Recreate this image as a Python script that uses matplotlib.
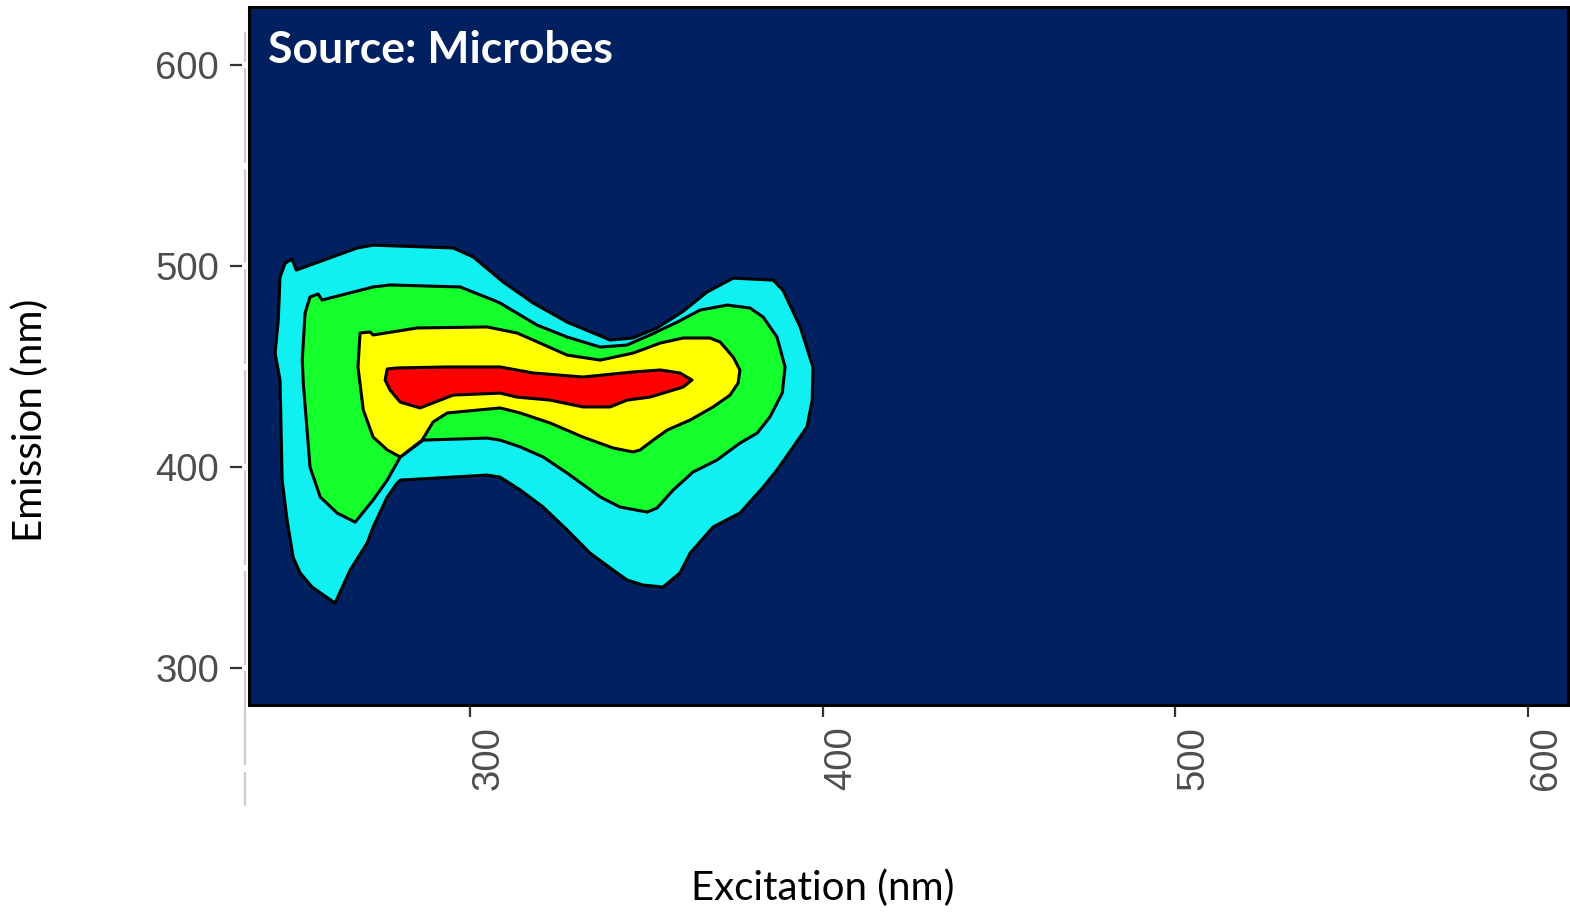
import matplotlib
matplotlib.use("Agg")
import matplotlib.pyplot as plt
from matplotlib.patches import Polygon, Rectangle
from matplotlib.transforms import blended_transform_factory
import numpy as np

plt.rcParams["font.family"] = ["Liberation Sans", "DejaVu Sans"]

# contour levels (excitation nm, emission nm)
cyan_ex = [249.5, 250.7, 268.0, 272.5, 295.2, 300.9, 309.4, 317.9, 327.5, 339.7,
           346.2, 353.0, 360.1, 367.2, 374.6, 385.9, 388.7, 393.6, 397.2, 397.0,
           395.5, 391.6, 387.0, 383.1, 376.5, 368.9, 362.4, 359.5, 354.7, 349.0,
           344.5, 340.5, 334.0, 327.5, 320.7, 314.2, 308.5, 304.8, 280.2, 279.3,
           276.5, 272.5, 270.8, 266.0, 261.7, 255.2, 251.8, 249.8, 248.1, 246.7,
           246.1, 244.7, 245.6, 246.1, 247.6]
cyan_em = [503.5, 498.0, 509.0, 510.4, 509.0, 504.5, 492.0, 481.6, 472.1, 463.2,
           464.2, 469.2, 477.1, 487.1, 494.0, 493.0, 488.0, 469.7, 449.8, 433.3,
           419.9, 410.0, 398.5, 390.0, 377.1, 370.2, 357.2, 347.3, 340.3, 341.3,
           343.8, 348.8, 357.2, 368.7, 380.1, 388.6, 395.0, 396.0, 393.5, 392.0,
           385.1, 370.2, 362.2, 348.8, 332.3, 340.3, 347.3, 355.2, 373.6, 393.5,
           443.3, 456.7, 473.1, 494.5, 501.5]

green_ex = [256.9, 258.0, 272.5, 277.3, 297.2, 306.5, 308.5, 319.0, 327.5, 336.9,
            344.5, 351.0, 358.7, 365.2, 372.9, 379.4, 383.1, 387.0, 389.3, 388.5,
            385.0, 381.4, 376.5, 370.0, 363.2, 357.6, 353.0, 350.2, 342.5, 336.9,
            327.5, 320.7, 314.2, 308.5, 304.8, 286.7, 280.2, 276.5, 272.5, 267.4,
            262.3, 257.5, 254.6, 252.7, 252.4, 253.2, 254.6]
green_em = [486.1, 483.1, 489.6, 490.6, 489.6, 483.1, 481.6, 470.6, 464.7, 459.7,
            460.7, 465.7, 472.1, 478.1, 480.6, 479.1, 474.6, 464.7, 449.8, 436.8,
            424.9, 416.9, 411.9, 403.5, 397.5, 388.6, 379.6, 377.6, 380.1, 385.1,
            397.0, 405.0, 410.0, 413.4, 414.4, 413.4, 405.0, 393.5, 383.6, 372.6,
            377.1, 385.1, 400.0, 441.8, 453.2, 476.6, 484.6]

yellow_ex = [271.6, 272.5, 285.0, 304.8, 313.3, 319.8, 327.5, 336.9, 346.2, 353.9,
             360.4, 368.0, 370.9, 374.6, 376.5, 376.0, 373.7, 368.9, 362.4, 355.9,
             351.9, 348.2, 346.2, 340.5, 332.0, 322.7, 314.2, 308.5, 293.5, 289.5,
             286.4, 280.2, 276.5, 272.5, 269.7, 268.2, 268.8]
yellow_em = [467.2, 465.7, 469.2, 469.7, 466.7, 461.7, 455.7, 453.2, 456.7, 461.7,
             464.2, 464.2, 462.2, 454.7, 448.3, 441.8, 435.8, 429.9, 423.4, 418.4,
             413.4, 408.5, 407.5, 409.5, 414.9, 421.9, 426.9, 429.4, 426.9, 422.4,
             413.4, 405.0, 408.5, 414.9, 428.4, 449.8, 466.7]

red_ex = [276.5, 279.3, 293.5, 308.5, 317.9, 332.0, 346.2, 353.9, 359.5, 362.9,
          360.4, 351.0, 344.5, 339.7, 332.0, 322.7, 313.3, 308.5, 295.2, 285.8,
          280.2, 277.3, 275.9]
red_em = [448.8, 449.3, 449.8, 449.8, 446.8, 444.8, 447.3, 448.3, 446.8, 443.3,
          439.8, 434.8, 433.3, 429.9, 429.9, 433.3, 434.8, 436.8, 435.8, 429.4,
          432.3, 438.3, 443.3]

x_ticks = [300, 400, 500, 600]
y_ticks = [300, 400, 500, 600]

levels = [(cyan_ex, cyan_em, "#10F0F0"),
          (green_ex, green_em, "#14FF2C"),
          (yellow_ex, yellow_em, "#FFFF00"),
          (red_ex, red_em, "#FF0000")]

W, H = 1570, 915
fig = plt.figure(figsize=(W / 100, H / 100), dpi=100)
ax = fig.add_axes([249 / W, 1 - 705 / H, (1568 - 249) / W, (705 - 7) / H])
ax.set_facecolor("#002060")
ax.set_xlim(237.3, 611.3)
ax.set_ylim(281.6, 628.9)

for ex, em, col in levels:
    ax.add_patch(Polygon(np.column_stack([ex, em]), closed=True, facecolor=col,
                         edgecolor="black", linewidth=2.2, joinstyle="round"))

for s in ax.spines.values():
    s.set_visible(False)
ax.spines["left"].set_position(("outward", 5))
ax.add_patch(Rectangle((0, 0), 1, 1, transform=ax.transAxes, fill=False,
                       edgecolor="black", linewidth=2.2, clip_on=False, zorder=5))

ax.set_xticks(x_ticks)
ax.set_yticks(y_ticks)
ax.tick_params(axis="both", direction="out", length=8.5, width=1.6, color="#333333",
               labelcolor="#4d4d4d", labelsize=27.5)
ax.tick_params(axis="y", pad=8)
ax.tick_params(axis="x", pad=7)
for lab in ax.get_xticklabels():
    lab.set_rotation(90)
    lab.set_ha("left")
    lab.set_va("top")

# light grey broken axis line left of the panel
tr = blended_transform_factory(fig.transFigure, ax.transData)
breaks = np.arange(250, 651, 50)
top, bot = 618, 230
edges = [bot] + [b for b in breaks if bot < b < top] + [top]
for lo, hi in zip(edges[:-1], edges[1:]):
    ax.plot([245 / W, 245 / W], [lo + 1.5, hi - 1.5], transform=tr, color="#cccccc",
            linewidth=1.6, clip_on=False, solid_capstyle="butt")

fig.text(30 / W, 1 - 420 / H, "Emission (nm)", rotation=90, ha="center", va="center",
         fontsize=29, family="Lato", color="black")
fig.text(823 / W, 1 - 888 / H, "Excitation (nm)", ha="center", va="center",
         fontsize=29, family="Lato", color="black")
fig.text(268 / W, 1 - 50 / H, "Source: Microbes", ha="left", va="center",
         fontsize=32, family="Lato", fontweight="bold", color="white")

fig.savefig("out.png", dpi=100)
